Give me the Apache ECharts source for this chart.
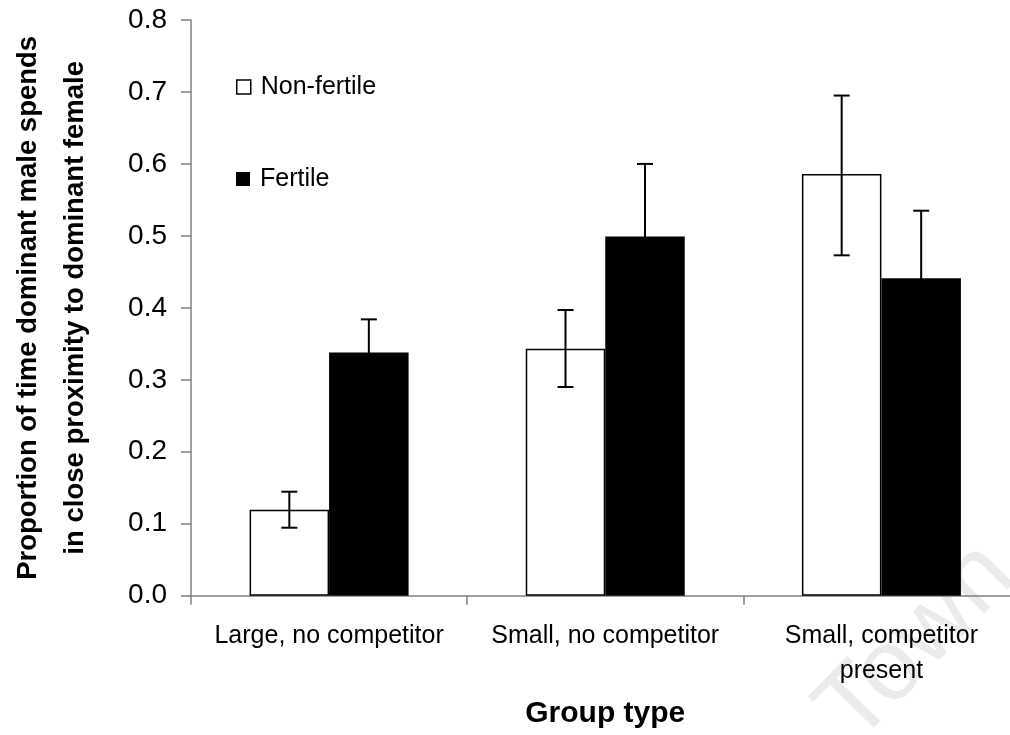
<!DOCTYPE html>
<html>
<head>
<meta charset="utf-8">
<script src="https://cdn.jsdelivr.net/npm/echarts@6/dist/echarts.min.js"></script>
<style>
html,body{margin:0;padding:0;background:#fff;}
#c{width:1010px;height:735px;}
</style>
</head>
<body>
<div id="c"></div>
<script>
// ---- data ----
const categories = ['Large, no competitor', 'Small, no competitor', 'Small, competitor\npresent'];
const nonFertile = [0.1195, 0.343, 0.586];
const nonFertileLow = [0.0945, 0.290, 0.473];
const nonFertileHigh = [0.1445, 0.397, 0.695];
const fertile = [0.338, 0.499, 0.441];
const fertileLow = [0.292, 0.398, 0.347];
const fertileHigh = [0.384, 0.600, 0.535];
const yTicks = ['0.0', '0.1', '0.2', '0.3', '0.4', '0.5', '0.6', '0.7', '0.8'];

const FONT = '"Liberation Sans", Arial, sans-serif';
const BAR_W = 79.5;

function errSeries(name, low, high, offset) {
  return {
    type: 'custom',
    name: name + ' error',
    z: 10,
    silent: true,
    encode: { x: 0, y: [1, 2] },
    data: low.map((l, i) => [i, l, high[i]]),
    renderItem: function (params, api) {
      const i = api.value(0);
      const pLow = api.coord([i, api.value(1)]);
      const pHigh = api.coord([i, api.value(2)]);
      const x = pLow[0] + offset;
      const cap = 8;
      const style = { stroke: '#000', lineWidth: 2 };
      return {
        type: 'group',
        children: [
          { type: 'line', shape: { x1: x, y1: pLow[1], x2: x, y2: pHigh[1] }, style: style },
          { type: 'line', shape: { x1: x - cap, y1: pHigh[1], x2: x + cap, y2: pHigh[1] }, style: style },
          { type: 'line', shape: { x1: x - cap, y1: pLow[1], x2: x + cap, y2: pLow[1] }, style: style }
        ]
      };
    }
  };
}

const chart = echarts.init(document.getElementById('c'), null, { renderer: 'canvas' });
chart.setOption({
  animation: false,
  backgroundColor: '#fff',
  textStyle: { fontFamily: FONT },
  grid: { left: 191, right: -9.5, top: 20, bottom: 139.3, containLabel: false, outerBoundsMode: 'none' },
  legend: [
    {
      left: 236, top: 73, padding: 0, orient: 'vertical', icon: 'rect', itemWidth: 14, itemHeight: 14,
      textStyle: { fontFamily: FONT, fontSize: 25, color: '#000', lineHeight: 28, padding: [0, 0, 0, 5] },
      data: [{ name: 'Non-fertile', itemStyle: { color: '#fff', borderColor: '#000', borderWidth: 1.5 } }],
      selectedMode: false
    },
    {
      left: 236, top: 165, padding: 0, orient: 'vertical', icon: 'rect', itemWidth: 14, itemHeight: 14,
      textStyle: { fontFamily: FONT, fontSize: 25, color: '#000', lineHeight: 28, padding: [0, 0, 0, 5] },
      data: [{ name: 'Fertile', itemStyle: { color: '#000', borderWidth: 0 } }],
      selectedMode: false
    }
  ],
  xAxis: {
    type: 'category',
    data: categories,
    name: 'Group type',
    nameLocation: 'middle',
    nameGap: 103,
    nameTextStyle: { fontFamily: FONT, fontSize: 30, fontWeight: 'bold', color: '#000' },
    axisLine: { lineStyle: { color: '#808080', width: 1.5 } },
    axisTick: { show: true, length: 9, lineStyle: { color: '#808080', width: 1.5 } },
    axisLabel: { fontFamily: FONT, fontSize: 25, color: '#000', margin: 23, lineHeight: 35, interval: 0 },
    splitLine: { show: false }
  },
  yAxis: {
    type: 'value',
    min: 0, max: 0.8, interval: 0.1,
    name: 'Proportion of time dominant male spends\nin close proximity to dominant female',
    nameLocation: 'middle',
    nameRotate: 90,
    nameGap: 92,
    nameTextStyle: { fontFamily: FONT, fontSize: 27.5, fontWeight: 'bold', color: '#000', lineHeight: 47 },
    axisLine: { show: true, lineStyle: { color: '#808080', width: 1.5 } },
    axisTick: { show: true, length: 10, lineStyle: { color: '#808080', width: 1.5 } },
    axisLabel: {
      fontFamily: FONT, fontSize: 28, color: '#000', margin: 24,
      formatter: function (v) { return yTicks[Math.round(v * 10)]; }
    },
    splitLine: { show: false }
  },
  series: [
    {
      type: 'bar', name: 'Non-fertile', data: nonFertile, barWidth: BAR_W, barGap: '0%',
      itemStyle: { color: '#fff', borderColor: '#000', borderWidth: 1.5 }
    },
    {
      type: 'bar', name: 'Fertile', data: fertile, barWidth: BAR_W, barGap: '0%',
      itemStyle: { color: '#000', borderColor: '#000', borderWidth: 0 }
    },
    errSeries('Non-fertile', nonFertileLow, nonFertileHigh, -BAR_W / 2),
    errSeries('Fertile', fertileLow, fertileHigh, BAR_W / 2)
  ],
  graphic: [
    {
      type: 'text', x: 800, y: 692, rotation: 0.8, z: -1, silent: true,
      style: { text: 'Town', fill: '#ebebeb', font: '100px ' + FONT }
    }
  ]
});
</script>
</body>
</html>
